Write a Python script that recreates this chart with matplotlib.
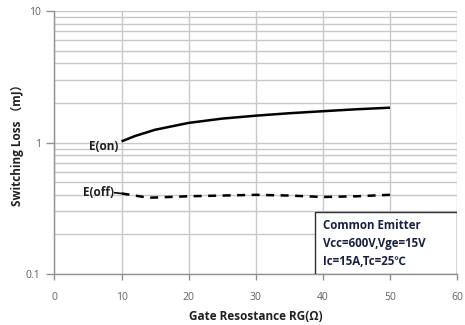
import matplotlib
matplotlib.use("Agg")
import matplotlib.pyplot as plt
from matplotlib.ticker import LogLocator, FixedLocator, NullFormatter

rg = [10, 12, 15, 20, 25, 30, 35, 40, 45, 50]
e_on = [1.02, 1.12, 1.25, 1.41, 1.52, 1.60, 1.67, 1.73, 1.79, 1.84]
e_off_x = [10, 12, 14, 17, 20, 25, 30, 35, 40, 45, 50]
e_off = [0.41, 0.395, 0.38, 0.385, 0.39, 0.395, 0.40, 0.395, 0.385, 0.39, 0.40]
x_ticks = [0, 10, 20, 30, 40, 50, 60]
y_ticks = [0.1, 1, 10]
y_labels = ["0.1", "1", "10"]
info_lines = ["Common Emitter", "Vcc=600V,Vge=15V", "Ic=15A,Tc=25\u2103"]

plt.rcParams['font.family'] = ['Open Sans', 'DejaVu Sans', 'Noto Sans CJK SC']

fig = plt.figure(figsize=(4.65, 3.25), dpi=100)
ax = fig.add_axes([0.117, 0.157, 0.866, 0.809])
ax.set_yscale('log')
ax.set_xlim(0, 60)
ax.set_ylim(0.1, 10)

grid_c = '#c8c8c8'
ax.yaxis.set_major_locator(FixedLocator(y_ticks))
ax.yaxis.set_minor_locator(LogLocator(base=10, subs=range(2, 10)))
ax.yaxis.set_minor_formatter(NullFormatter())
ax.set_yticks(y_ticks)
ax.set_yticklabels(y_labels)
ax.set_xticks(x_ticks)
ax.grid(True, which='major', axis='both', color=grid_c, lw=1.0)
ax.grid(True, which='minor', axis='y', color=grid_c, lw=1.0)
ax.tick_params(axis='y', which='minor', length=0)
ax.tick_params(axis='both', which='major', length=6, color='#909090', width=1,
               labelsize=7.5, labelcolor='#606060', pad=4)
ax.tick_params(axis='x', which='major', length=4, pad=9)
for s in ['top', 'right']:
    ax.spines[s].set_visible(False)
for s in ['left', 'bottom']:
    ax.spines[s].set_color('#909090')
    ax.spines[s].set_linewidth(1)

ax.plot(rg, e_on, color='black', lw=1.8, solid_capstyle='butt')
ax.plot(e_off_x, e_off, color='black', lw=1.8, dashes=(3.2, 2.6))

ax.text(9.6, 0.94, 'E(on)', ha='right', va='center', fontsize=8.5,
        fontweight='bold', color='#202020')
ax.text(8.9, 0.415, 'E(off)', ha='right', va='center', fontsize=8.5,
        fontweight='bold', color='#202020')
ax.plot([9.0, 9.9], [0.415, 0.41], color='black', lw=1.2)

ax.set_ylabel('Switching Loss \uff08mJ\uff09', fontsize=8.5, fontweight='bold',
              color='#202020',
              fontfamily=['Open Sans', 'Noto Sans CJK SC'])
ax.yaxis.set_label_coords(-0.075, 0.5)
ax.set_xlabel('Gate Resostance RG(\u03a9)', fontsize=8.5, fontweight='bold',
              color='#202020', labelpad=5)

# info box
box = plt.Rectangle((0.648, 0.0), 0.352, 0.235, transform=ax.transAxes,
                    facecolor='white', edgecolor='#303030', lw=1.0, zorder=5)
ax.add_patch(box)
for i, line in enumerate(info_lines):
    ax.text(0.668, 0.186 - i * 0.07, line, transform=ax.transAxes,
            fontsize=8.3, fontweight='bold', color='#1a2040', va='center',
            ha='left', zorder=6,
            fontfamily=['Open Sans', 'Noto Sans CJK SC'])

fig.savefig('out.png', dpi=100)
